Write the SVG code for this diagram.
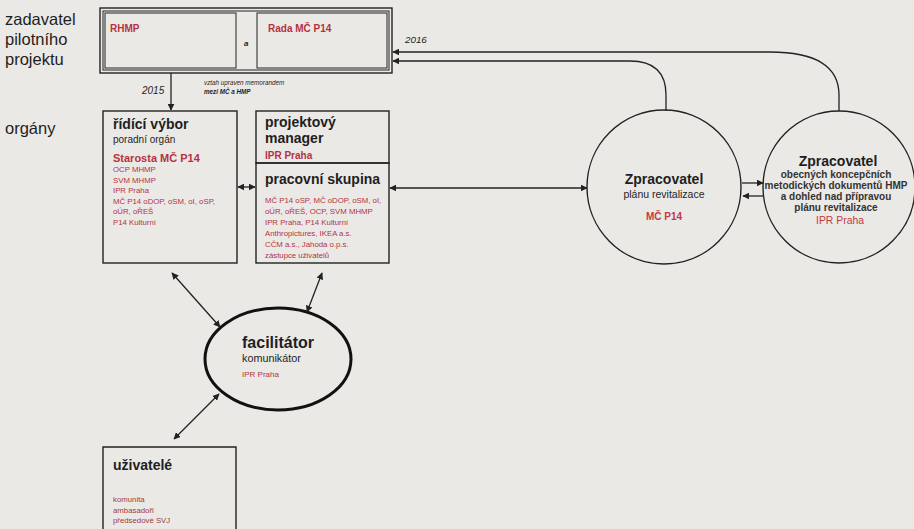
<svg xmlns="http://www.w3.org/2000/svg" width="914" height="529" viewBox="0 0 914 529">
<defs>
<style>
text{font-family:"Liberation Sans",Arial,sans-serif;fill:#1e1e1e}
.lbl{font-size:16.5px}
.h{font-size:14px;font-weight:bold}
.red{fill:#b5323f}
.sm{font-size:7.8px;fill:#b5323f}
.c2{font-size:10px;font-weight:bold;fill:#333}
.box{fill:none;stroke:#222;stroke-width:1.4}
.thin{fill:none;stroke:#222;stroke-width:1}
.con{fill:none;stroke:#222;stroke-width:1.3}
</style>
<marker id="ah" viewBox="0 0 10 10" refX="9" refY="5" markerWidth="7" markerHeight="7" orient="auto-start-reverse" markerUnits="userSpaceOnUse">
<path d="M0,0 L10,5 L0,10 z" fill="#222"/>
</marker>
</defs>
<rect width="914" height="529" fill="#ebe9e6"/>

<g id="labels">
<text class="lbl" x="5" y="25">zadavatel</text>
<text class="lbl" x="5" y="45">pilotního</text>
<text class="lbl" x="5" y="65">projektu</text>
<text class="lbl" x="5" y="134">orgány</text>
</g>

<g id="zadavatel">
<rect class="box" x="100" y="8" width="292" height="65"/>
<rect class="thin" x="103" y="11" width="286" height="59"/>
<rect class="thin" x="105" y="13" width="131" height="55"/>
<rect class="thin" x="257" y="13" width="130" height="55"/>
<text x="110" y="32" style="font-size:10px;font-weight:bold;fill:#b5323f">RHMP</text>
<text x="268" y="32" style="font-size:10px;font-weight:bold;fill:#b5323f">Rada MČ P14</text>
<text x="244" y="46" style="font-size:8px;font-style:italic;font-weight:bold">a</text>
</g>

<g id="ridici-vybor">
<rect class="box" x="103" y="111" width="134" height="152"/>
<text class="h" x="113" y="129">řídící výbor</text>
<text x="113" y="143" style="font-size:10px">poradní orgán</text>
<text x="113" y="162" style="font-size:11px;font-weight:bold;fill:#b5323f">Starosta MČ P14</text>
<text class="sm" x="113" y="172">OCP MHMP</text>
<text class="sm" x="113" y="182.5">SVM MHMP</text>
<text class="sm" x="113" y="193">IPR Praha</text>
<text class="sm" x="113" y="203.5">MČ P14 oDOP, oSM, oI, oSP,</text>
<text class="sm" x="113" y="214">oÚR, oŘEŠ</text>
<text class="sm" x="113" y="224.5">P14 Kulturní</text>
</g>

<g id="projektovy-manager">
<rect class="box" x="256" y="111" width="133" height="52"/>
<text class="h" x="265" y="127">projektový</text>
<text class="h" x="265" y="143">manager</text>
<text x="265" y="159" style="font-size:10px;font-weight:bold;fill:#b5323f">IPR Praha</text>
</g>

<g id="pracovni-skupina">
<rect class="box" x="256" y="163" width="133" height="100"/>
<text class="h" x="265" y="184">pracovní skupina</text>
<text class="sm" x="265" y="203">MČ P14 oSP, MČ oDOP, oSM, oI,</text>
<text class="sm" x="265" y="214">oÚR, oŘEŠ, OCP, SVM MHMP</text>
<text class="sm" x="265" y="225">IPR Praha, P14 Kulturní</text>
<text class="sm" x="265" y="236">Anthropictures, IKEA a.s.</text>
<text class="sm" x="265" y="247">CČM a.s., Jahoda o.p.s.</text>
<text class="sm" x="265" y="257.5">zástupce uživatelů</text>
</g>

<g id="zpracovatel-1">
<circle class="box" cx="664" cy="187" r="77"/>
<text class="h" x="664" y="184" text-anchor="middle">Zpracovatel</text>
<text x="664" y="198" text-anchor="middle" style="font-size:10.5px">plánu revitalizace</text>
<text x="664" y="220" text-anchor="middle" style="font-size:10px;font-weight:bold;fill:#c23a3f">MČ P14</text>
</g>

<g id="zpracovatel-2">
<circle class="box" cx="839" cy="187" r="76"/>
<text class="h" x="838" y="166" text-anchor="middle">Zpracovatel</text>
<text class="c2" x="836" y="178" text-anchor="middle">obecných koncepčních</text>
<text class="c2" x="836" y="189" text-anchor="middle">metodických dokumentů HMP</text>
<text class="c2" x="836" y="200" text-anchor="middle">a dohled nad přípravou</text>
<text class="c2" x="836" y="211" text-anchor="middle">plánu revitalizace</text>
<text x="840" y="224" text-anchor="middle" style="font-size:10.4px;fill:#c23a3f">IPR Praha</text>
</g>

<g id="facilitator">
<ellipse cx="278" cy="359" rx="73" ry="51" fill="none" stroke="#111" stroke-width="3"/>
<text x="242" y="348" style="font-size:16px;font-weight:bold">facilitátor</text>
<text x="242" y="362" style="font-size:10.8px">komunikátor</text>
<text x="242" y="377" style="font-size:8px;fill:#b5323f">IPR Praha</text>
</g>

<g id="uzivatele">
<path class="box" d="M103,529 V447 H236 V529"/>
<text class="h" x="113" y="470">uživatelé</text>
<text class="sm" x="113" y="502" style="fill:#a23a3a">komunita</text>
<text class="sm" x="113" y="512.5" style="fill:#a23a3a">ambasadoři</text>
<text class="sm" x="113" y="523" style="fill:#a23a3a">předsedové SVJ</text>
</g>

<g id="connectors">
<line class="con" x1="171" y1="73" x2="171" y2="110" marker-end="url(#ah)"/>
<text x="142" y="94" style="font-size:10px;font-style:italic">2015</text>
<text x="204" y="85" style="font-size:6.3px;font-style:italic">vztah upraven memorandem</text>
<text x="204" y="94" style="font-size:6.3px;font-style:italic;font-weight:bold">mezi MČ a HMP</text>
<path class="con" d="M839,111 V95 Q839,52 770,52 H393" marker-end="url(#ah)"/>
<path class="con" d="M666,111 V95 Q666,61 630,61 H393" marker-end="url(#ah)"/>
<text x="405" y="43" style="font-size:9.8px;font-style:italic">2016</text>
<line class="con" x1="238" y1="187" x2="255" y2="187" marker-start="url(#ah)" marker-end="url(#ah)"/>
<line class="con" x1="390" y1="188" x2="587" y2="188" marker-start="url(#ah)" marker-end="url(#ah)"/>
<line class="con" x1="742" y1="183" x2="763" y2="183" marker-end="url(#ah)"/>
<line class="con" x1="763" y1="196" x2="743" y2="196" marker-end="url(#ah)"/>
<line class="con" x1="172" y1="273" x2="220" y2="327" marker-start="url(#ah)" marker-end="url(#ah)"/>
<line class="con" x1="322" y1="273" x2="307" y2="312" marker-start="url(#ah)" marker-end="url(#ah)"/>
<line class="con" x1="219" y1="394" x2="174" y2="439" marker-start="url(#ah)" marker-end="url(#ah)"/>
</g>
</svg>
